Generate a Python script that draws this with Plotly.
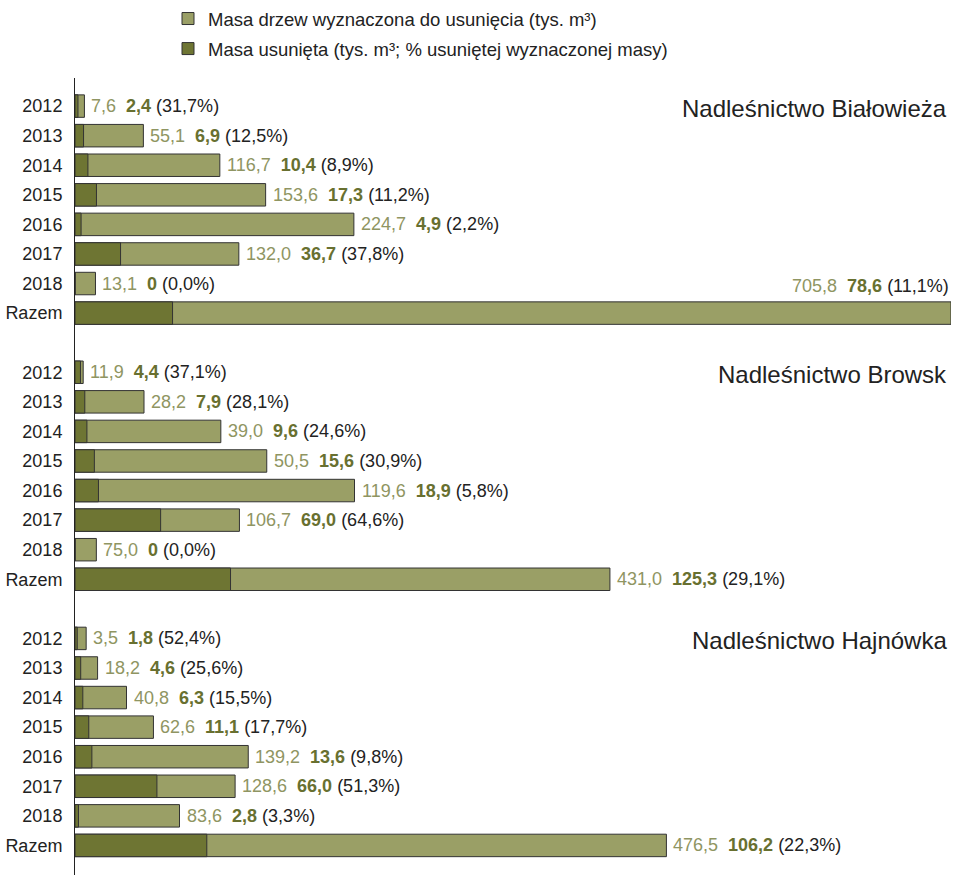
import plotly.graph_objects as go

groups = ["Nadleśnictwo Białowieża", "Nadleśnictwo Browsk", "Nadleśnictwo Hajnówka"]
row_labels = ["2012", "2013", "2014", "2015", "2016", "2017", "2018", "Razem"]

# values printed in the labels (tys. m3)
designated_bialowieza = [7.6, 55.1, 116.7, 153.6, 224.7, 132.0, 13.1, 705.8]
designated_browsk = [11.9, 28.2, 39.0, 50.5, 119.6, 106.7, 75.0, 431.0]
designated_hajnowka = [3.5, 18.2, 40.8, 62.6, 139.2, 128.6, 83.6, 476.5]

removed_bialowieza = [2.4, 6.9, 10.4, 17.3, 4.9, 36.7, 0, 78.6]
removed_browsk = [4.4, 7.9, 9.6, 15.6, 18.9, 69.0, 0, 125.3]
removed_hajnowka = [1.8, 4.6, 6.3, 11.1, 13.6, 66.0, 2.8, 106.2]

pct_bialowieza = [31.7, 12.5, 8.9, 11.2, 2.2, 37.8, 0.0, 11.1]
pct_browsk = [37.1, 28.1, 24.6, 30.9, 5.8, 64.6, 0.0, 29.1]
pct_hajnowka = [52.4, 25.6, 15.5, 17.7, 9.8, 51.3, 3.3, 22.3]

# bar lengths as drawn in the picture (some differ from the printed labels)
bar_bialowieza = [7.6, 55.1, 116.7, 153.6, 224.7, 132.0, 16.5, 705.8]
bar_browsk = [6.6, 55.6, 117.5, 154.5, 225.2, 132.5, 17.2, 431.0]
bar_hajnowka = [9.0, 18.2, 41.5, 63.2, 139.6, 129.0, 84.2, 476.5]

designated = [designated_bialowieza, designated_browsk, designated_hajnowka]
removed = [removed_bialowieza, removed_browsk, removed_hajnowka]
pcts = [pct_bialowieza, pct_browsk, pct_hajnowka]
bars = [bar_bialowieza, bar_browsk, bar_hajnowka]

LIGHT = "#9a9f66"
DARK = "#6e7533"
LIGHT_TXT = "#8f9562"
DARK_TXT = "#687030"
TXT = "#222222"
FONT = "Liberation Sans, Arial, sans-serif"


def fmt(v):
    return f"{v:.1f}".replace(".", ",")


def fmt_rem(v):
    return "0" if v == 0 else fmt(v)


ys, xs_bar, xs_rem = [], [], []
tickvals, ticktext = [], []
for g in range(3):
    for r in range(8):
        y = g * 9 + r
        ys.append(y)
        xs_bar.append(bars[g][r])
        xs_rem.append(removed[g][r])
        tickvals.append(y)
        ticktext.append(row_labels[r])

fig = go.Figure()
fig.add_trace(go.Bar(
    x=xs_bar, y=ys, orientation="h",
    name="Masa drzew wyznaczona do usunięcia (tys. m³)",
    marker=dict(color=LIGHT, line=dict(color="#333333", width=1)),
    legendgroup="a", hoverinfo="skip",
))
fig.add_trace(go.Bar(
    x=xs_rem, y=ys, orientation="h",
    name="Masa usunięta (tys. m³; % usuniętej wyznaczonej masy)",
    marker=dict(color=DARK, line=dict(color="#333333", width=1)),
    legendgroup="b", hoverinfo="skip",
))

annotations = []
NB = "\u00a0"
for g in range(3):
    annotations.append(dict(
        x=1, xref="paper", y=g * 9 + 0.08, yref="y",
        text=groups[g], showarrow=False, xanchor="right", yanchor="middle",
        xshift=-2, font=dict(size=24, color=TXT, family=FONT),
    ))
    for r in range(8):
        y = g * 9 + r
        text = (f"<span style='color:{LIGHT_TXT}'>{fmt(designated[g][r])}</span>{NB}{NB}"
                f"<b><span style='color:{DARK_TXT}'>{fmt_rem(removed[g][r])}</span></b>{NB}"
                f"<span style='color:{TXT}'>({fmt(pcts[g][r])}%)</span>")
        if g == 0 and r == 7:
            annotations.append(dict(
                x=bars[g][r], y=6.1, xref="x", yref="y", text=text, showarrow=False,
                xanchor="right", yanchor="middle", xshift=0,
                font=dict(size=18, family=FONT),
            ))
        else:
            annotations.append(dict(
                x=bars[g][r], y=y, xref="x", yref="y", text=text, showarrow=False,
                xanchor="left", yanchor="middle", xshift=5,
                font=dict(size=18, family=FONT),
            ))

fig.update_layout(
    width=958, height=875,
    margin=dict(l=75, r=7, t=78, b=0),
    paper_bgcolor="white", plot_bgcolor="white",
    barmode="overlay", bargap=0.24,
    font=dict(family=FONT, size=18, color=TXT),
    showlegend=True,
    legend=dict(
        x=(168 - 75) / 876, xanchor="left", y=1.0 + 78 / 797, yanchor="top",
        font=dict(size=18.5, family=FONT, color=TXT),
        tracegroupgap=3, bgcolor="rgba(0,0,0,0)", itemclick=False,
    ),
    annotations=annotations,
)
fig.update_xaxes(range=[0, 705.8], visible=False, showgrid=False, zeroline=False)
fig.update_yaxes(
    range=[26.0, -0.95], tickvals=tickvals, ticktext=ticktext,
    showline=True, linecolor="#222222", linewidth=1,
    showgrid=False, zeroline=False, ticks="", ticklabelstandoff=8,
    tickfont=dict(size=18, family=FONT, color=TXT),
)

fig.write_html("out.html", config={"displayModeBar": False},
               post_script="document.body.style.margin='0';")
